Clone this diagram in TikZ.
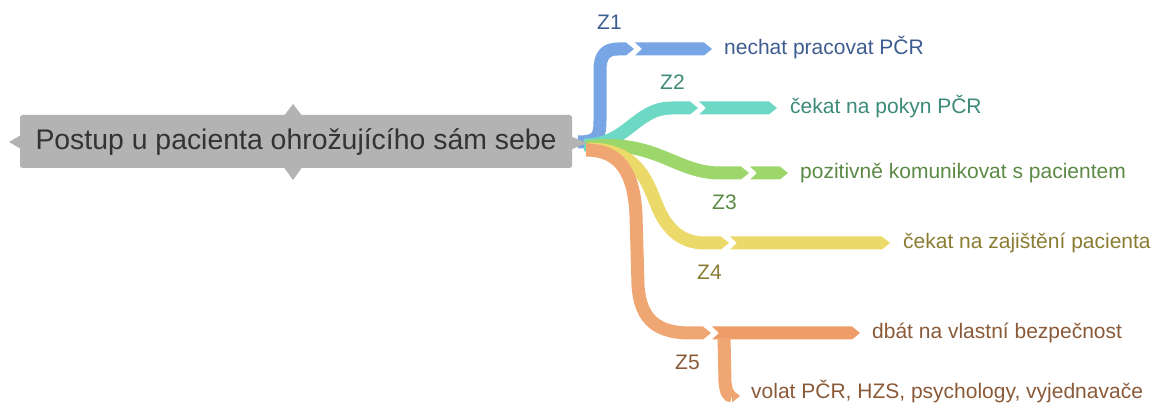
\documentclass[tikz,border=0pt]{standalone}
\usepackage{fontspec}
\setmainfont{Liberation Sans}
\definecolor{bandblue}{HTML}{78A5E3}
\definecolor{bandteal}{HTML}{6DD9C5}
\definecolor{bandgreen}{HTML}{9DD66B}
\definecolor{bandyellow}{HTML}{EBD96A}
\definecolor{bandorange}{HTML}{F0A672}
\definecolor{bandorangeB}{HTML}{EE9C68}
\definecolor{txtblue}{HTML}{3D5C8F}
\definecolor{txtteal}{HTML}{3D8A78}
\definecolor{txtgreen}{HTML}{5C8A45}
\definecolor{txtyellow}{HTML}{8A7D33}
\definecolor{txtorange}{HTML}{8A5A38}
\definecolor{rootgrey}{HTML}{B3B3B3}
\newcommand\segarrow[4]{% start x, end x, y, colour
  \fill[#4] (#1-1,#3-6.5) -- (#2-8,#3-6.5) -- (#2,#3) -- (#2-8,#3+6.5) -- (#1-1,#3+6.5) -- (#1+6,#3) -- cycle;}
\newcommand\tiparrow[3]{% end x, y, colour
  \fill[#3] (#1-8,#2-6.5) -- (#1,#2) -- (#1-8,#2+6.5) -- cycle;}
\begin{document}
\begin{tikzpicture}[x=1pt,y=-1pt,
  band/.style={line width=13pt},
  leaf/.style={anchor=base west,inner sep=0pt,font=\fontsize{21}{25}\selectfont},
  zlab/.style={anchor=base west,inner sep=0pt,font=\fontsize{21}{25}\selectfont}]
\useasboundingbox (0,0) rectangle (1157,403);
% ---- branch anchor coordinates
\coordinate (e1) at (626,49);
\coordinate (e2) at (690,108);
\coordinate (e3) at (741,173);
\coordinate (e4) at (721,243);
\coordinate (e5) at (703,333);
% ---- Z1 blue
\draw[band,bandblue] (578,142) .. controls (598,142) and (600,136) .. (600,120) -- (600,70) .. controls (600,55) and (606,49) .. (618,49) -- (e1);
\tiparrow{634}{49}{bandblue}
\segarrow{636}{712}{49}{bandblue}
% ---- Z2 teal
\draw[band,bandteal] (584,145) .. controls (628,145) and (635,108) .. (672,108) -- (e2);
\tiparrow{698}{108}{bandteal}
\segarrow{700}{777}{108}{bandteal}
% ---- Z3 green
\draw[band,bandgreen] (586,147) .. controls (655,138) and (675,173) .. (720,173) -- (e3);
\tiparrow{749}{173}{bandgreen}
\segarrow{751}{788}{173}{bandgreen}
% ---- Z4 yellow
\draw[band,bandyellow] (588,149) .. controls (640,149) and (648,185) .. (658,208) .. controls (670,236) and (688,243) .. (705,243) -- (e4);
\tiparrow{729}{243}{bandyellow}
\segarrow{731}{890}{243}{bandyellow}
% ---- Z5 orange
\draw[band,bandorange] (586,150) .. controls (618,150) and (634,170) .. (636,215) -- (638,285) .. controls (640,322) and (660,333) .. (690,333) -- (e5);
\tiparrow{711}{333}{bandorange}
\segarrow{713}{860}{333}{bandorangeB}
\draw[line width=13pt,bandorange] (724,338) -- (725,382) .. controls (726,392) and (728,396) .. (732,396);
\tiparrow{740}{396}{bandorange}
% ---- root
\fill[rootgrey] (21,135) -- (9,142) -- (21,149) -- cycle;
\fill[rootgrey] (570,136) -- (587,143) -- (570,150) -- cycle;
\fill[rootgrey] (283,117) -- (293,104) -- (303,117) -- cycle;
\fill[rootgrey] (283,166) -- (293,180) -- (303,166) -- cycle;
\node[fill=rootgrey,rounded corners=2.5pt,minimum width=552pt,minimum height=53pt,inner sep=0pt,
  text=black!80,font=\fontsize{28.4}{33}\selectfont] (root) at (296,141.5) {Postup u pacienta ohrožujícího sám sebe};
% ---- labels
\node[leaf,text=txtblue] (t1) at (724,55) {nechat pracovat PČR};
\node[leaf,text=txtteal] (t2) at (790,114) {čekat na pokyn PČR};
\node[leaf,text=txtgreen] (t3) at (800,179) {pozitivně komunikovat s pacientem};
\node[leaf,text=txtyellow] (t4) at (903,249) {čekat na zajištění pacienta};
\node[leaf,text=txtorange] (t5) at (872,339) {dbát na vlastní bezpečnost};
\node[leaf,text=txtorange] (t6) at (751,398) {volat PČR, HZS, psychology, vyjednavače};
\node[zlab,text=txtblue] (z1) at (597,30) {Z1};
\node[zlab,text=txtteal] (z2) at (660,90) {Z2};
\node[zlab,text=txtgreen] (z3) at (712,210) {Z3};
\node[zlab,text=txtyellow] (z4) at (697,280) {Z4};
\node[zlab,text=txtorange] (z5) at (675,370) {Z5};
\end{tikzpicture}
\end{document}
